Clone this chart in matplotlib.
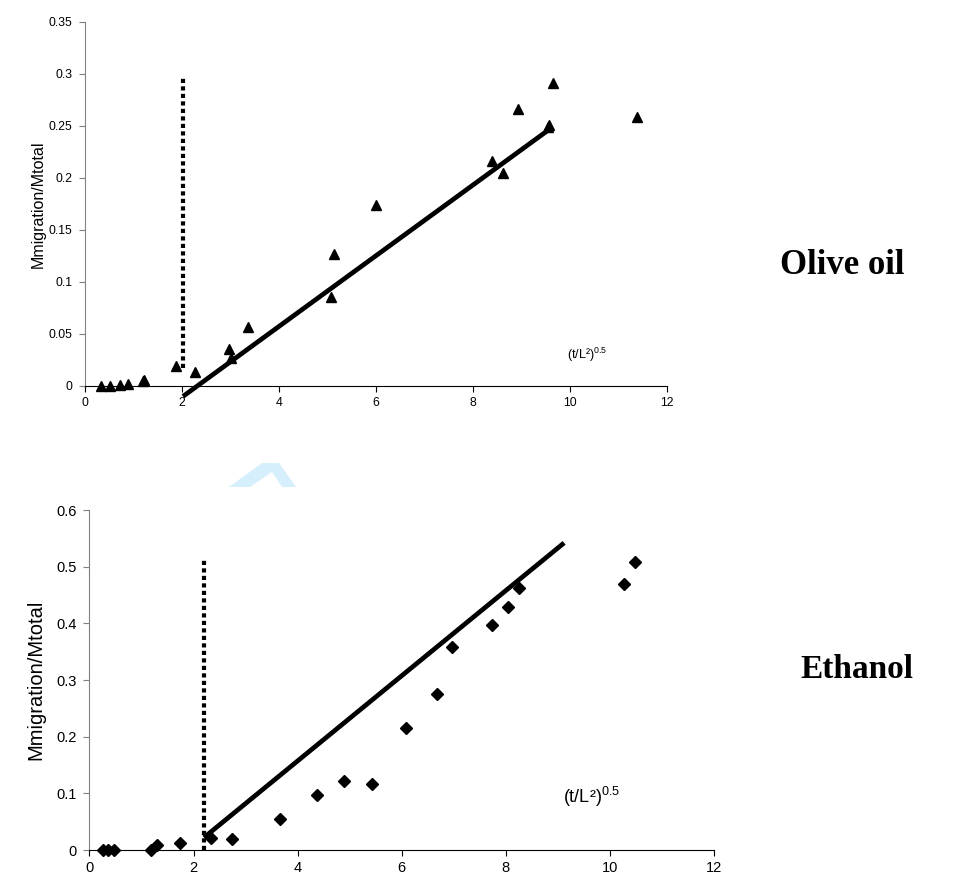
import matplotlib
matplotlib.use("Agg")
import matplotlib.pyplot as plt
from matplotlib.patches import Polygon

plt.rcParams["font.family"] = ["Liberation Sans", "DejaVu Sans"]
plt.rcParams["mathtext.fontset"] = "custom"
plt.rcParams["mathtext.rm"] = "Liberation Sans"
plt.rcParams["mathtext.it"] = "Liberation Sans"

# olive oil: measured points
oil_x = [0.34, 0.51, 0.73, 0.88, 1.20, 1.21, 1.88, 2.27, 2.97, 3.00, 3.37,
         5.08, 5.14, 6.00, 8.39, 8.61, 8.93, 9.55, 9.56, 9.65, 11.39]
oil_y = [0.0, 0.0, 0.001, 0.002, 0.005, 0.006, 0.019, 0.013, 0.036, 0.027, 0.057,
         0.086, 0.127, 0.174, 0.216, 0.205, 0.266, 0.249, 0.251, 0.291, 0.259]
oil_fit_x = [2.02, 9.58]
oil_fit_y = [-0.010, 0.247]
oil_lag_x = [2.03, 2.03]
oil_lag_y = [0.0176, 0.296]

# ethanol: measured points
eth_x = [0.26, 0.35, 0.47, 1.18, 1.29, 1.74, 2.34, 2.74, 3.67, 4.38,
         4.89, 5.42, 6.09, 6.68, 6.97, 7.74, 8.05, 8.26, 10.28, 10.48]
eth_y = [0.0, 0.0, 0.0, 0.0, 0.008, 0.012, 0.021, 0.019, 0.054, 0.097,
         0.121, 0.116, 0.216, 0.276, 0.358, 0.397, 0.428, 0.462, 0.470, 0.509]
eth_fit_x = [2.20, 9.12]
eth_fit_y = [0.022, 0.542]
eth_lag_x = [2.20, 2.20]
eth_lag_y = [0.0, 0.516]

W, H = 954, 882
fig = plt.figure(figsize=(W / 100, H / 100), dpi=100)


def px_axes(left, right, top, bottom):
    return fig.add_axes([left / W, 1 - bottom / H, (right - left) / W, (bottom - top) / H])


def style_axes(ax, ymax, ystep, tick_fs, label_fs, label_x):
    ax.set_xlim(0, 12)
    ax.set_ylim(0, ymax)
    ax.set_xticks(range(0, 13, 2))
    ticks = [round(i * ystep, 2) for i in range(int(round(ymax / ystep)) + 1)]
    ax.set_yticks(ticks)
    ax.set_yticklabels([f"{t:g}" for t in ticks])
    for s in ("top", "right"):
        ax.spines[s].set_visible(False)
    ax.spines["left"].set_color("#808080")
    ax.spines["bottom"].set_color("black")
    ax.tick_params(axis="y", colors="#808080", labelcolor="black", length=4,
                   width=0.8, labelsize=tick_fs, pad=5)
    ax.tick_params(axis="x", length=4, width=0.8, labelsize=tick_fs, pad=4)
    ax.set_ylabel("Mmigration/Mtotal", fontsize=label_fs)
    ax.yaxis.set_label_coords(label_x, 0.5)


def lag_line(ax, xs, ys):
    ax.plot(xs, ys, color="black", lw=3.0, linestyle=(0, (1, 0.8)),
            dash_capstyle="butt", clip_on=False)


# upper panel
ax1 = px_axes(85, 667, 22, 386)
ax1.plot(oil_x, oil_y, "^", color="black", ms=6.5, clip_on=False, zorder=4)
ax1.plot(oil_fit_x, oil_fit_y, "-", color="black", lw=3.4, clip_on=False,
         solid_capstyle="butt")
lag_line(ax1, oil_lag_x, oil_lag_y)
style_axes(ax1, 0.35, 0.05, 8.8, 11.5, -0.068)
ax1.text(9.94, 0.030, r"(t/L²)$^{0.5}$", fontsize=9, va="center")

# lower panel
ax2 = px_axes(89.5, 714, 510, 850)
ax2.plot(eth_x, eth_y, "D", color="black", ms=6, clip_on=False, zorder=4)
ax2.plot(eth_fit_x, eth_fit_y, "-", color="black", lw=3.4, clip_on=False,
         solid_capstyle="butt")
lag_line(ax2, eth_lag_x, eth_lag_y)
style_axes(ax2, 0.6, 0.1, 10.5, 14.5, -0.07)
ax2.text(9.10, 0.093, r"(t/L²)$^{0.5}$", fontsize=13, va="center")

# panel titles
fig.text(780 / W, 1 - 265 / H, "Olive oil", fontsize=25, fontweight="bold",
         family="Liberation Serif", va="center")
fig.text(800 / W, 1 - 670 / H, "Ethanol", fontsize=24, fontweight="bold",
         family="Liberation Serif", va="center")

# faint chevron between the panels
chevron_px = [(229, 487), (262, 463), (279, 463), (296, 487), (282, 487),
              (272, 472), (250, 487)]
fig.patches.append(Polygon([(x / W, 1 - y / H) for x, y in chevron_px],
                           closed=True, transform=fig.transFigure,
                           facecolor="#d6effc", edgecolor="none", zorder=0))

fig.savefig("out.png", dpi=100)
